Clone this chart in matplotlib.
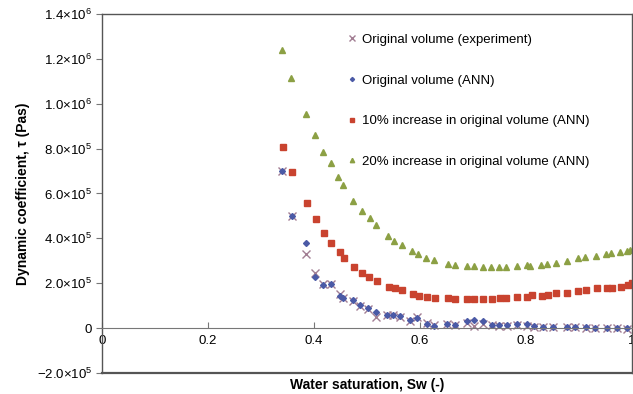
import matplotlib
matplotlib.use("Agg")
import matplotlib.pyplot as plt

plt.rcParams["font.family"] = ["Liberation Sans", "DejaVu Sans"]
plt.rcParams["mathtext.fontset"] = "custom"
plt.rcParams["mathtext.rm"] = "Liberation Sans"

# experiment (crosses)
sw_exp = [0.34, 0.358, 0.385, 0.402, 0.417, 0.432, 0.449, 0.455, 0.474, 0.487,
          0.502, 0.517, 0.538, 0.549, 0.562, 0.581, 0.594, 0.613, 0.626, 0.651,
          0.666, 0.689, 0.702, 0.719, 0.736, 0.749, 0.764, 0.783, 0.802, 0.815,
          0.832, 0.851, 0.877, 0.892, 0.913, 0.93, 0.953, 0.972, 0.99]
tau_exp = [7.0, 5.0, 3.3, 2.45, 1.95, 1.95, 1.5, 1.35, 1.2, 1.0,
           0.85, 0.5, 0.6, 0.6, 0.5, 0.3, 0.5, 0.25, 0.15, 0.2,
           0.15, 0.25, 0.1, 0.2, 0.15, 0.1, 0.1, 0.15, 0.1, 0.05,
           0.05, 0.05, 0.05, 0.03, 0.02, 0.0, 0.0, 0.0, -0.05]

# ANN, original volume
sw_ann = sw_exp
tau_ann = [7.0, 5.0, 3.8, 2.3, 1.9, 1.95, 1.45, 1.35, 1.25, 1.05,
           0.9, 0.72, 0.6, 0.6, 0.55, 0.35, 0.45, 0.2, 0.1, 0.2,
           0.12, 0.3, 0.36, 0.3, 0.15, 0.12, 0.12, 0.2, 0.18, 0.08,
           0.06, 0.05, 0.06, 0.03, 0.03, 0.02, 0.01, 0.0, 0.0]

# ANN, +10 % volume
sw_10 = [0.342, 0.358, 0.386, 0.404, 0.419, 0.433, 0.449, 0.457, 0.476, 0.49,
         0.504, 0.518, 0.542, 0.553, 0.566, 0.587, 0.598, 0.613, 0.628, 0.653,
         0.666, 0.689, 0.702, 0.719, 0.736, 0.751, 0.762, 0.783, 0.802, 0.811,
         0.83, 0.842, 0.857, 0.877, 0.898, 0.913, 0.934, 0.953, 0.962, 0.979,
         0.992, 1.0]
tau_10 = [8.07, 6.96, 5.58, 4.86, 4.24, 3.8, 3.38, 3.12, 2.72, 2.45,
          2.27, 2.1, 1.83, 1.78, 1.7, 1.52, 1.43, 1.38, 1.36, 1.34,
          1.3, 1.3, 1.3, 1.3, 1.3, 1.34, 1.34, 1.38, 1.38, 1.47,
          1.45, 1.47, 1.56, 1.56, 1.65, 1.7, 1.78, 1.78, 1.8, 1.83,
          1.92, 2.0]

# ANN, +20 % volume
sw_20 = [0.34, 0.357, 0.385, 0.402, 0.417, 0.432, 0.445, 0.455, 0.474, 0.49,
         0.506, 0.517, 0.54, 0.551, 0.566, 0.585, 0.597, 0.611, 0.626, 0.653,
         0.666, 0.689, 0.702, 0.719, 0.734, 0.749, 0.762, 0.783, 0.802, 0.808,
         0.828, 0.84, 0.857, 0.877, 0.898, 0.911, 0.932, 0.951, 0.96, 0.977,
         0.99, 0.996]
tau_20 = [12.4, 11.15, 9.54, 8.6, 7.85, 7.35, 6.73, 6.38, 5.66, 5.2,
          4.9, 4.6, 4.1, 3.9, 3.7, 3.43, 3.3, 3.12, 3.03, 2.85,
          2.8, 2.76, 2.76, 2.72, 2.72, 2.72, 2.72, 2.76, 2.8, 2.76,
          2.8, 2.85, 2.9, 3.0, 3.12, 3.17, 3.2, 3.3, 3.34, 3.4,
          3.43, 3.48]

labels = ["Original volume (experiment)", "Original volume (ANN)",
          "10% increase in original volume (ANN)",
          "20% increase in original volume (ANN)"]
yticks = [-2e5, 0, 2e5, 4e5, 6e5, 8e5, 1.0e6, 1.2e6, 1.4e6]
ytick_labels = [r"$-$2.0×10$^5$", "0", "2.0×10$^5$", "4.0×10$^5$", "6.0×10$^5$",
                "8.0×10$^5$", "1.0×10$^6$", "1.2×10$^6$", "1.4×10$^6$"]
xticks = [0, 0.2, 0.4, 0.6, 0.8, 1.0]
xtick_labels = ["0", "0.2", "0.4", "0.6", "0.8", "1"]

fig = plt.figure(figsize=(6.33, 3.94), dpi=100)
ax = fig.add_axes([0.161, 0.0533, 0.8375, 0.9112])

ax.plot(sw_exp, [v * 1e5 for v in tau_exp], linestyle="none", marker="x",
        markersize=6, markeredgewidth=1.0, color="#a27e93", label=labels[0])
ax.plot(sw_ann, [v * 1e5 for v in tau_ann], linestyle="none", marker="D",
        markersize=3, color="#4b5aa6", label=labels[1])
ax.plot(sw_10, [v * 1e5 for v in tau_10], linestyle="none", marker="s",
        markersize=4, color="#c9432f", label=labels[2])
ax.plot(sw_20, [v * 1e5 for v in tau_20], linestyle="none", marker="^",
        markersize=4.5, color="#8ca044", label=labels[3])

ax.set_xlim(0, 1)
ax.set_ylim(-2e5, 1.4e6)

for s in ["top", "right", "left"]:
    ax.spines[s].set_color("#555555")
    ax.spines[s].set_linewidth(1.0)
ax.spines["bottom"].set_position(("data", 0))
ax.spines["bottom"].set_color("#777777")
ax.axhline(-2e5, color="#555555", linewidth=1.6, clip_on=False)

ax.set_yticks(yticks)
ax.set_yticklabels(ytick_labels, fontsize=9.5)
ax.set_xticks(xticks)
ax.set_xticklabels(xtick_labels, fontsize=9.5)
ax.tick_params(axis="y", direction="out", length=4, color="#777777", pad=3)
ax.tick_params(axis="x", direction="in", length=4, color="#777777", pad=5)

ax.set_ylabel(r"Dynamic coefficient, τ (Pas)", fontsize=10, fontweight="bold")
ax.set_xlabel("Water saturation, Sw (-)", fontsize=10, fontweight="bold")
ax.xaxis.set_label_coords(0.5, -0.015)
ax.yaxis.set_label_coords(-0.135, 0.5)

ax.legend(loc="upper left", bbox_to_anchor=(0.435, 0.978), frameon=False,
          fontsize=9.5, labelspacing=2.15, handletextpad=0.1, handlelength=1.2,
          markerscale=0.7)

plt.savefig("out.png", dpi=100)
